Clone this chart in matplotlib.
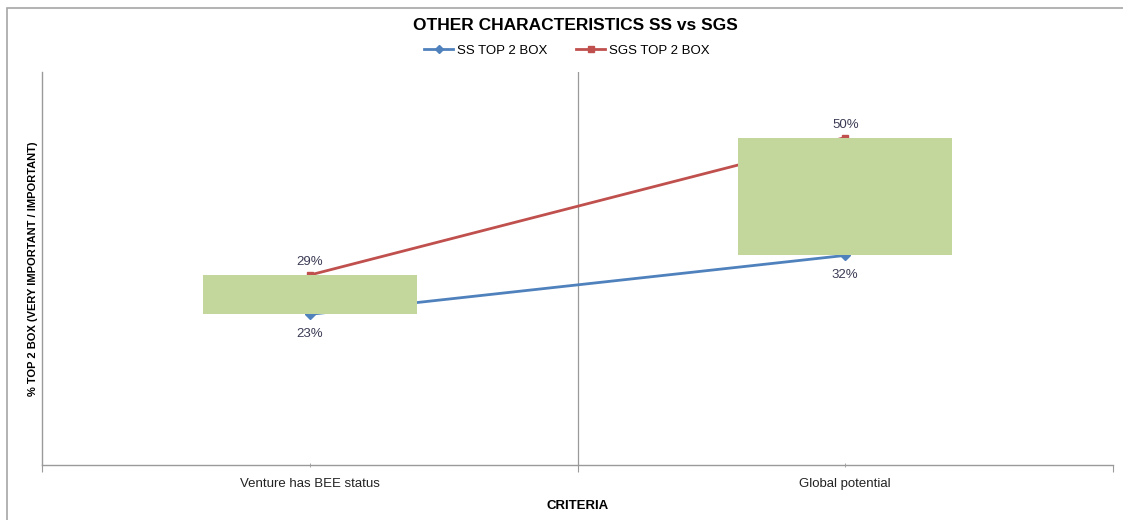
import matplotlib.pyplot as plt
from matplotlib.lines import Line2D
from matplotlib.patches import Rectangle

criteria = ["Venture has BEE status", "Global potential"]
ss_top2 = [23, 32]
sgs_top2 = [29, 50]

BLUE = "#4F81BD"
RED = "#C0504D"
GREEN = "#C3D69B"
LABEL = "#3b3b55"
GRID = "#9a9a9a"

plt.rcParams["font.family"] = ["Liberation Sans", "DejaVu Sans"]

fig = plt.figure(figsize=(11.23, 5.2), dpi=100)
fig.patches.append(Rectangle((7 / 1123, -0.1), 1.2, 1.1 - 8 / 520,
                             transform=fig.transFigure, fill=False,
                             edgecolor="#a6a6a6", linewidth=1.2))

ax = fig.add_axes([42 / 1123, 55 / 520, (1113 - 42) / 1123, (465 - 72) / 520])
x = list(range(len(criteria)))

ax.plot(x, ss_top2, color=BLUE, lw=2, marker="D", ms=5, zorder=2)
ax.plot(x, sgs_top2, color=RED, lw=2, marker="s", ms=5, zorder=2)

# up/down bars between the two series
lo = [min(a, b) for a, b in zip(ss_top2, sgs_top2)]
hi = [max(a, b) for a, b in zip(ss_top2, sgs_top2)]
ax.bar(x, [h - l for h, l in zip(hi, lo)], bottom=lo, width=0.4,
       color=GREEN, edgecolor="none", zorder=3)

for xi, v in zip(x, sgs_top2):
    ax.annotate(f"{v}%", (xi, v), xytext=(0, 5), textcoords="offset points",
                ha="center", va="bottom", fontsize=9.5, color=LABEL)
for xi, v in zip(x, ss_top2):
    ax.annotate(f"{v}%", (xi, v), xytext=(0, -10), textcoords="offset points",
                ha="center", va="top", fontsize=9.5, color=LABEL)

ax.set_xlim(-0.5, 1.5)
ax.set_ylim(0, 60)
ax.axvline(0.5, color=GRID, lw=0.9, zorder=1)

ax.set_yticks([])
ax.set_xticks([-0.5, 0.5, 1.5])
ax.set_xticklabels([])
ax.set_xticks(x, minor=True)
ax.set_xticklabels(criteria, minor=True, fontsize=9.5, color="#222222")
ax.tick_params(axis="x", which="major", length=5, color=GRID, direction="out")
ax.tick_params(axis="x", which="minor", length=3, color=GRID, direction="inout", pad=8)

for side in ("top", "right"):
    ax.spines[side].set_visible(False)
for side in ("left", "bottom"):
    ax.spines[side].set_color(GRID)
    ax.spines[side].set_linewidth(1)

ax.set_xlabel("CRITERIA", fontsize=9.5, fontweight="bold", labelpad=7)
ax.set_ylabel("% TOP 2 BOX (VERY IMPORTANT / IMPORTANT)", fontsize=8,
              fontweight="bold", labelpad=3)

fig.text(575 / 1123, 1 - 25 / 520, "OTHER CHARACTERISTICS SS vs SGS",
         ha="center", va="center", fontsize=12.5, fontweight="bold")

handles = [Line2D([], [], color=BLUE, lw=2, marker="D", ms=4),
           Line2D([], [], color=RED, lw=2, marker="s", ms=5)]
fig.legend(handles, ["SS TOP 2 BOX", "SGS TOP 2 BOX"], loc="center",
           bbox_to_anchor=(567 / 1123, 1 - 51 / 520), ncol=2, frameon=False,
           fontsize=9.5, handlelength=2.2, handletextpad=0.3, columnspacing=2.2)

fig.savefig("out.png", dpi=100)
